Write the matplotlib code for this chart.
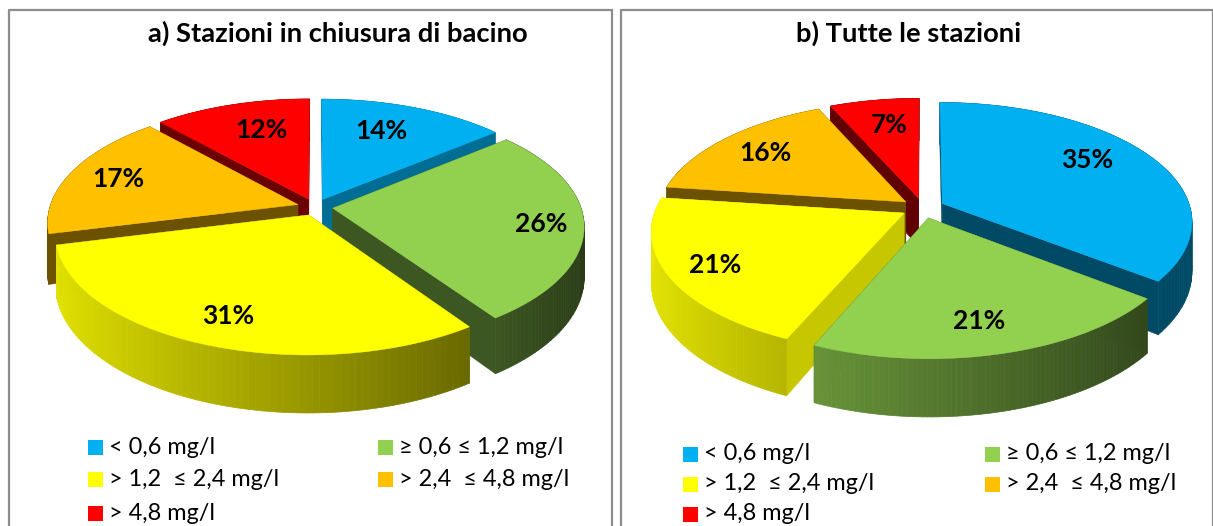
import matplotlib
matplotlib.use("Agg")
import matplotlib.pyplot as plt
import numpy as np
from matplotlib.patches import Polygon, Rectangle

plt.rcParams['font.family'] = ['Lato', 'DejaVu Sans']

legend_labels = ["< 0,6 mg/l", "≥ 0,6 ≤ 1,2 mg/l", "> 1,2  ≤ 2,4 mg/l", "> 2,4  ≤ 4,8 mg/l", "> 4,8 mg/l"]
colors = ["#00B0F0", "#92D050", "#FFFF00", "#FFC000", "#FF0000"]

values_a = [14, 26.4, 30.7, 17.2, 11.7]
values_b = [35.49, 21, 20.6, 16.2, 6.71]
title_a = "a) Stazioni in chiusura di bacino"
title_b = "b) Tutte le stazioni"

# layout in image pixels
label_pos_a = [(381, 131), (541, 224), (228, 316), (118, 179), (261, 130)]
label_pos_b = [(1087, 160), (979, 321), (715, 265), (765, 153), (889, 125)]
cut_shade_a = [0.62, 0.42, 0.45, 0.42, 0.42]
cut_shade_b = [0.42, 0.45, 0.78, 0.42, 0.38]

RX = 248
RY = 117
PERSP = 0.146
DEPTH = 49


def to_rgb_scaled(color, f):
    return np.array(matplotlib.colors.to_rgb(color)) * f


def project(cx, cy, x, z, drop=0):
    s = 1 / (1 + PERSP * z)
    return cx + RX * x * s, cy - RY * z * s + drop * s


def draw_pie(ax, values, cx, cy, explode, cut_shades, label_pos):
    fracs = np.array(values) / sum(values)
    edges = np.concatenate([[0], np.cumsum(fracs)]) * 2 * np.pi
    mids = (edges[:-1] + edges[1:]) / 2

    # back wedges first
    for i in np.argsort(-np.cos(mids)):
        ox, oz = explode * np.sin(mids[i]), explode * np.cos(mids[i])
        t = np.linspace(edges[i], edges[i + 1], 80)
        x = ox + np.sin(t)
        z = oz + np.cos(t)
        top = project(cx, cy, x, z)
        bot = project(cx, cy, x, z, DEPTH)
        ax0, ay0 = project(cx, cy, ox, oz)
        bx0, by0 = project(cx, cy, ox, oz, DEPTH)

        # cut faces
        cut_col = to_rgb_scaled(colors[i], cut_shades[i])
        for k in (0, -1):
            pts = [(ax0, ay0), (top[0][k], top[1][k]), (bot[0][k], bot[1][k]), (bx0, by0)]
            ax.add_patch(Polygon(pts, closed=True, fc=cut_col, ec=cut_col, lw=0.3))

        # outer side: flat on back wedges, light to dark left to right on front ones
        for k in range(len(t) - 1):
            shade = 0.9 - 0.62 * (np.sin(t[k]) + 1) / 2
            if np.cos(mids[i]) > 0:
                shade = cut_shades[i]
            c = to_rgb_scaled(colors[i], shade)
            pts = [(top[0][k], top[1][k]), (top[0][k + 1], top[1][k + 1]),
                   (bot[0][k + 1], bot[1][k + 1]), (bot[0][k], bot[1][k])]
            ax.add_patch(Polygon(pts, closed=True, fc=c, ec=c, lw=0.5))

        pts = np.column_stack([np.r_[ax0, top[0]], np.r_[ay0, top[1]]])
        ax.add_patch(Polygon(pts, closed=True, fc=colors[i], ec=colors[i], lw=0.3))

    for v, (lx, ly) in zip(values, label_pos):
        ax.text(lx, ly, f"{v:.0f}%", ha="center", va="center", fontsize=19, fontweight="bold", color="black")


def draw_legend(ax, x1, x2, rows):
    slots = [(x1, rows[0]), (x2, rows[0]), (x1, rows[1]), (x2, rows[1]), (x1, rows[2])]
    for (sx, sy), lab, col in zip(slots, legend_labels, colors):
        ax.add_patch(Rectangle((sx, sy - 7), 15, 15, fc=col, ec="none"))
        ax.text(sx + 21, sy, lab, ha="left", va="center", fontsize=16.9, color="black")


fig = plt.figure(figsize=(12.13, 5.26), dpi=100)
ax = fig.add_axes([0, 0, 1, 1])
ax.set_xlim(0, 1213)
ax.set_ylim(526, 0)
ax.axis("off")

for x0, x1 in [(9, 612), (621, 1213)]:
    ax.plot([x0, x0, x1, x1], [527, 10, 10, 527], color="#8c8c8c", lw=1.6)

ax.text(338, 33, title_a, ha="center", va="center", fontsize=19.7, fontweight="bold")
ax.text(909, 33, title_b, ha="center", va="center", fontsize=19.7, fontweight="bold")

draw_pie(ax, values_a, 315, 207, 0.072, cut_shade_a, label_pos_a)
draw_pie(ax, values_b, 923, 208, 0.087, cut_shade_b, label_pos_b)

draw_legend(ax, 88, 378, [447, 479, 513])
draw_legend(ax, 683, 985, [454, 484, 514])

fig.savefig("out.png", dpi=100)
